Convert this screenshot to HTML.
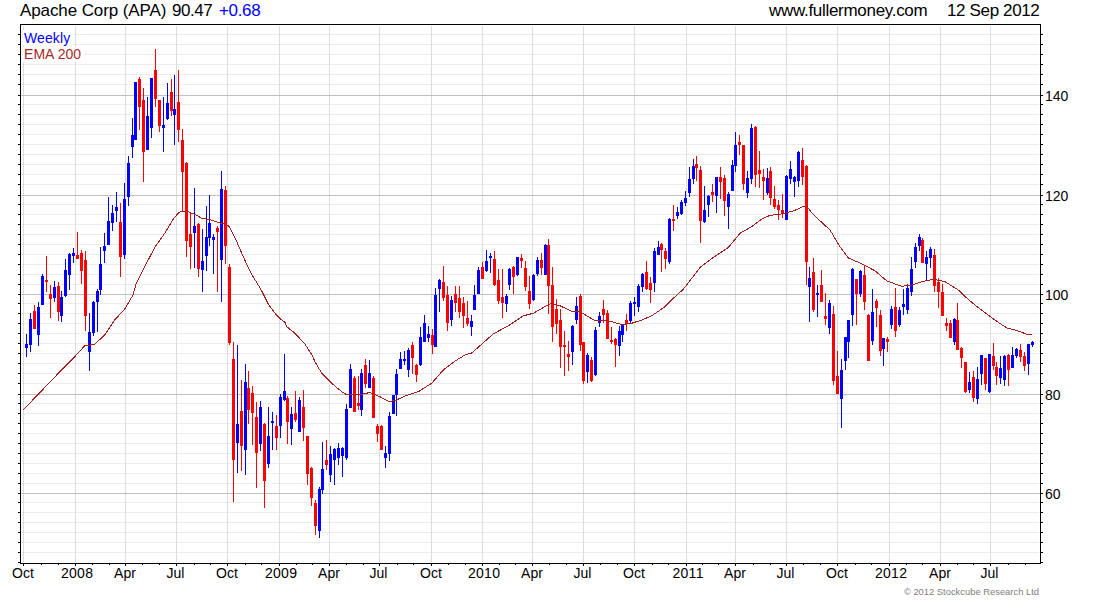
<!DOCTYPE html>
<html><head><meta charset="utf-8"><title>Apache Corp (APA)</title>
<style>
html,body{margin:0;padding:0;background:#fff;}
body{width:1100px;height:600px;position:relative;overflow:hidden;font-family:"Liberation Sans",sans-serif;color:#000;}
.t{position:absolute;white-space:nowrap;line-height:1;}
.title{top:2px;font-size:17px;letter-spacing:-0.1px;}
.wk{left:24px;top:31px;font-size:14px;color:#0000ff;letter-spacing:0.1px;}
.ema{left:24px;top:47px;font-size:14px;color:#a52a2a;letter-spacing:0.05px;}
.xl{position:absolute;top:565px;width:61px;text-align:center;font-size:14px;line-height:16px;white-space:nowrap;}
.yl{position:absolute;left:1045px;font-size:14px;line-height:16px;white-space:nowrap;}
.foot{right:61px;top:587px;font-size:9.4px;color:#808080;}
</style></head><body>
<svg width="1100" height="600" viewBox="0 0 1100 600" style="position:absolute;left:0;top:0">
<rect x="0" y="0" width="1100" height="600" fill="#fff"/>
<g shape-rendering="crispEdges">
<rect x="22" y="34" width="1017" height="1" fill="#ececec"/>
<rect x="22" y="44" width="1017" height="1" fill="#ececec"/>
<rect x="22" y="54" width="1017" height="1" fill="#ececec"/>
<rect x="22" y="64" width="1017" height="1" fill="#ececec"/>
<rect x="22" y="74" width="1017" height="1" fill="#ececec"/>
<rect x="22" y="84" width="1017" height="1" fill="#ececec"/>
<rect x="22" y="104" width="1017" height="1" fill="#ececec"/>
<rect x="22" y="114" width="1017" height="1" fill="#ececec"/>
<rect x="22" y="124" width="1017" height="1" fill="#ececec"/>
<rect x="22" y="134" width="1017" height="1" fill="#ececec"/>
<rect x="22" y="144" width="1017" height="1" fill="#ececec"/>
<rect x="22" y="154" width="1017" height="1" fill="#ececec"/>
<rect x="22" y="164" width="1017" height="1" fill="#ececec"/>
<rect x="22" y="174" width="1017" height="1" fill="#ececec"/>
<rect x="22" y="184" width="1017" height="1" fill="#ececec"/>
<rect x="22" y="204" width="1017" height="1" fill="#ececec"/>
<rect x="22" y="214" width="1017" height="1" fill="#ececec"/>
<rect x="22" y="224" width="1017" height="1" fill="#ececec"/>
<rect x="22" y="234" width="1017" height="1" fill="#ececec"/>
<rect x="22" y="244" width="1017" height="1" fill="#ececec"/>
<rect x="22" y="254" width="1017" height="1" fill="#ececec"/>
<rect x="22" y="264" width="1017" height="1" fill="#ececec"/>
<rect x="22" y="274" width="1017" height="1" fill="#ececec"/>
<rect x="22" y="284" width="1017" height="1" fill="#ececec"/>
<rect x="22" y="303" width="1017" height="1" fill="#ececec"/>
<rect x="22" y="313" width="1017" height="1" fill="#ececec"/>
<rect x="22" y="323" width="1017" height="1" fill="#ececec"/>
<rect x="22" y="333" width="1017" height="1" fill="#ececec"/>
<rect x="22" y="343" width="1017" height="1" fill="#ececec"/>
<rect x="22" y="353" width="1017" height="1" fill="#ececec"/>
<rect x="22" y="363" width="1017" height="1" fill="#ececec"/>
<rect x="22" y="373" width="1017" height="1" fill="#ececec"/>
<rect x="22" y="383" width="1017" height="1" fill="#ececec"/>
<rect x="22" y="403" width="1017" height="1" fill="#ececec"/>
<rect x="22" y="413" width="1017" height="1" fill="#ececec"/>
<rect x="22" y="423" width="1017" height="1" fill="#ececec"/>
<rect x="22" y="433" width="1017" height="1" fill="#ececec"/>
<rect x="22" y="443" width="1017" height="1" fill="#ececec"/>
<rect x="22" y="453" width="1017" height="1" fill="#ececec"/>
<rect x="22" y="463" width="1017" height="1" fill="#ececec"/>
<rect x="22" y="473" width="1017" height="1" fill="#ececec"/>
<rect x="22" y="483" width="1017" height="1" fill="#ececec"/>
<rect x="22" y="502" width="1017" height="1" fill="#ececec"/>
<rect x="22" y="512" width="1017" height="1" fill="#ececec"/>
<rect x="22" y="522" width="1017" height="1" fill="#ececec"/>
<rect x="22" y="532" width="1017" height="1" fill="#ececec"/>
<rect x="22" y="542" width="1017" height="1" fill="#ececec"/>
<rect x="22" y="552" width="1017" height="1" fill="#ececec"/>
<rect x="23" y="26" width="1" height="536" fill="#dcdcdc"/>
<rect x="75" y="26" width="1" height="536" fill="#dcdcdc"/>
<rect x="125" y="26" width="1" height="536" fill="#dcdcdc"/>
<rect x="176" y="26" width="1" height="536" fill="#dcdcdc"/>
<rect x="227" y="26" width="1" height="536" fill="#dcdcdc"/>
<rect x="279" y="26" width="1" height="536" fill="#dcdcdc"/>
<rect x="329" y="26" width="1" height="536" fill="#dcdcdc"/>
<rect x="379" y="26" width="1" height="536" fill="#dcdcdc"/>
<rect x="431" y="26" width="1" height="536" fill="#dcdcdc"/>
<rect x="482" y="26" width="1" height="536" fill="#dcdcdc"/>
<rect x="532" y="26" width="1" height="536" fill="#dcdcdc"/>
<rect x="583" y="26" width="1" height="536" fill="#dcdcdc"/>
<rect x="634" y="26" width="1" height="536" fill="#dcdcdc"/>
<rect x="686" y="26" width="1" height="536" fill="#dcdcdc"/>
<rect x="735" y="26" width="1" height="536" fill="#dcdcdc"/>
<rect x="786" y="26" width="1" height="536" fill="#dcdcdc"/>
<rect x="837" y="26" width="1" height="536" fill="#dcdcdc"/>
<rect x="889" y="26" width="1" height="536" fill="#dcdcdc"/>
<rect x="940" y="26" width="1" height="536" fill="#dcdcdc"/>
<rect x="990" y="26" width="1" height="536" fill="#dcdcdc"/>
<rect x="21" y="95" width="1019" height="1" fill="#c0c0c0"/>
<rect x="21" y="195" width="1019" height="1" fill="#c0c0c0"/>
<rect x="21" y="294" width="1019" height="1" fill="#c0c0c0"/>
<rect x="21" y="394" width="1019" height="1" fill="#c0c0c0"/>
<rect x="21" y="493" width="1019" height="1" fill="#c0c0c0"/>
<rect x="21" y="30" width="52" height="15" fill="#fff"/>
<rect x="21" y="47" width="63" height="15" fill="#fff"/>
</g>
<g shape-rendering="crispEdges">
<rect x="26" y="334" width="1" height="23" fill="#0000ff"/>
<rect x="25" y="344" width="3" height="4" fill="#0000ff"/>
<rect x="30" y="313" width="1" height="39" fill="#0000ff"/>
<rect x="29" y="319" width="3" height="26" fill="#0000ff"/>
<rect x="34" y="305" width="1" height="24" fill="#ff0000"/>
<rect x="33" y="311" width="3" height="18" fill="#ff0000"/>
<rect x="38" y="302" width="1" height="44" fill="#0000ff"/>
<rect x="37" y="307" width="3" height="28" fill="#0000ff"/>
<rect x="42" y="274" width="1" height="31" fill="#0000ff"/>
<rect x="41" y="276" width="3" height="29" fill="#0000ff"/>
<rect x="46" y="256" width="1" height="36" fill="#ff0000"/>
<rect x="45" y="280" width="3" height="2" fill="#ff0000"/>
<rect x="50" y="285" width="1" height="33" fill="#ff0000"/>
<rect x="49" y="294" width="3" height="5" fill="#ff0000"/>
<rect x="54" y="281" width="1" height="21" fill="#0000ff"/>
<rect x="53" y="287" width="3" height="11" fill="#0000ff"/>
<rect x="58" y="282" width="1" height="39" fill="#ff0000"/>
<rect x="57" y="286" width="3" height="26" fill="#ff0000"/>
<rect x="61" y="291" width="1" height="31" fill="#0000ff"/>
<rect x="60" y="297" width="3" height="19" fill="#0000ff"/>
<rect x="65" y="259" width="1" height="38" fill="#0000ff"/>
<rect x="64" y="270" width="3" height="26" fill="#0000ff"/>
<rect x="69" y="253" width="1" height="37" fill="#0000ff"/>
<rect x="68" y="254" width="3" height="21" fill="#0000ff"/>
<rect x="73" y="248" width="1" height="15" fill="#0000ff"/>
<rect x="72" y="253" width="3" height="3" fill="#0000ff"/>
<rect x="77" y="232" width="1" height="27" fill="#ff0000"/>
<rect x="76" y="255" width="3" height="4" fill="#ff0000"/>
<rect x="81" y="250" width="1" height="34" fill="#ff0000"/>
<rect x="80" y="253" width="3" height="18" fill="#ff0000"/>
<rect x="85" y="251" width="1" height="80" fill="#ff0000"/>
<rect x="84" y="260" width="3" height="56" fill="#ff0000"/>
<rect x="89" y="313" width="1" height="58" fill="#0000ff"/>
<rect x="88" y="332" width="3" height="20" fill="#0000ff"/>
<rect x="93" y="301" width="1" height="35" fill="#0000ff"/>
<rect x="92" y="302" width="3" height="31" fill="#0000ff"/>
<rect x="97" y="289" width="1" height="43" fill="#0000ff"/>
<rect x="96" y="291" width="3" height="11" fill="#0000ff"/>
<rect x="100" y="247" width="1" height="48" fill="#0000ff"/>
<rect x="99" y="264" width="3" height="26" fill="#0000ff"/>
<rect x="104" y="233" width="1" height="30" fill="#0000ff"/>
<rect x="103" y="246" width="3" height="5" fill="#0000ff"/>
<rect x="108" y="197" width="1" height="48" fill="#0000ff"/>
<rect x="107" y="221" width="3" height="24" fill="#0000ff"/>
<rect x="112" y="205" width="1" height="26" fill="#0000ff"/>
<rect x="111" y="213" width="3" height="10" fill="#0000ff"/>
<rect x="116" y="192" width="1" height="30" fill="#0000ff"/>
<rect x="115" y="207" width="3" height="4" fill="#0000ff"/>
<rect x="120" y="203" width="1" height="74" fill="#ff0000"/>
<rect x="119" y="222" width="3" height="35" fill="#ff0000"/>
<rect x="124" y="183" width="1" height="76" fill="#0000ff"/>
<rect x="123" y="199" width="3" height="56" fill="#0000ff"/>
<rect x="128" y="156" width="1" height="50" fill="#0000ff"/>
<rect x="127" y="163" width="3" height="34" fill="#0000ff"/>
<rect x="132" y="118" width="1" height="40" fill="#0000ff"/>
<rect x="131" y="135" width="3" height="12" fill="#0000ff"/>
<rect x="135" y="82" width="1" height="58" fill="#0000ff"/>
<rect x="134" y="82" width="3" height="58" fill="#0000ff"/>
<rect x="139" y="77" width="1" height="53" fill="#ff0000"/>
<rect x="138" y="79" width="3" height="28" fill="#ff0000"/>
<rect x="143" y="88" width="1" height="94" fill="#ff0000"/>
<rect x="142" y="100" width="3" height="52" fill="#ff0000"/>
<rect x="147" y="97" width="1" height="53" fill="#0000ff"/>
<rect x="146" y="116" width="3" height="34" fill="#0000ff"/>
<rect x="151" y="78" width="1" height="60" fill="#0000ff"/>
<rect x="150" y="78" width="3" height="50" fill="#0000ff"/>
<rect x="155" y="49" width="1" height="58" fill="#ff0000"/>
<rect x="154" y="70" width="3" height="29" fill="#ff0000"/>
<rect x="159" y="100" width="1" height="32" fill="#ff0000"/>
<rect x="158" y="100" width="3" height="26" fill="#ff0000"/>
<rect x="163" y="97" width="1" height="55" fill="#0000ff"/>
<rect x="162" y="125" width="3" height="3" fill="#0000ff"/>
<rect x="167" y="83" width="1" height="37" fill="#0000ff"/>
<rect x="166" y="103" width="3" height="16" fill="#0000ff"/>
<rect x="171" y="79" width="1" height="37" fill="#ff0000"/>
<rect x="170" y="92" width="3" height="19" fill="#ff0000"/>
<rect x="174" y="75" width="1" height="70" fill="#0000ff"/>
<rect x="173" y="109" width="3" height="6" fill="#0000ff"/>
<rect x="178" y="70" width="1" height="72" fill="#ff0000"/>
<rect x="177" y="102" width="3" height="28" fill="#ff0000"/>
<rect x="182" y="129" width="1" height="82" fill="#ff0000"/>
<rect x="181" y="140" width="3" height="32" fill="#ff0000"/>
<rect x="186" y="162" width="1" height="95" fill="#ff0000"/>
<rect x="185" y="163" width="3" height="78" fill="#ff0000"/>
<rect x="190" y="213" width="1" height="56" fill="#ff0000"/>
<rect x="189" y="234" width="3" height="13" fill="#ff0000"/>
<rect x="194" y="188" width="1" height="80" fill="#0000ff"/>
<rect x="193" y="226" width="3" height="7" fill="#0000ff"/>
<rect x="198" y="223" width="1" height="54" fill="#ff0000"/>
<rect x="197" y="224" width="3" height="45" fill="#ff0000"/>
<rect x="202" y="229" width="1" height="63" fill="#0000ff"/>
<rect x="201" y="261" width="3" height="9" fill="#0000ff"/>
<rect x="206" y="206" width="1" height="65" fill="#0000ff"/>
<rect x="205" y="237" width="3" height="19" fill="#0000ff"/>
<rect x="209" y="195" width="1" height="51" fill="#0000ff"/>
<rect x="208" y="223" width="3" height="15" fill="#0000ff"/>
<rect x="213" y="234" width="1" height="40" fill="#0000ff"/>
<rect x="212" y="237" width="3" height="3" fill="#0000ff"/>
<rect x="217" y="226" width="1" height="66" fill="#ff0000"/>
<rect x="216" y="228" width="3" height="4" fill="#ff0000"/>
<rect x="221" y="171" width="1" height="131" fill="#0000ff"/>
<rect x="220" y="189" width="3" height="71" fill="#0000ff"/>
<rect x="225" y="186" width="1" height="78" fill="#ff0000"/>
<rect x="224" y="190" width="3" height="56" fill="#ff0000"/>
<rect x="229" y="264" width="1" height="81" fill="#ff0000"/>
<rect x="228" y="267" width="3" height="76" fill="#ff0000"/>
<rect x="233" y="342" width="1" height="160" fill="#ff0000"/>
<rect x="232" y="359" width="3" height="101" fill="#ff0000"/>
<rect x="237" y="345" width="1" height="128" fill="#0000ff"/>
<rect x="236" y="424" width="3" height="19" fill="#0000ff"/>
<rect x="241" y="380" width="1" height="91" fill="#ff0000"/>
<rect x="240" y="411" width="3" height="35" fill="#ff0000"/>
<rect x="245" y="364" width="1" height="111" fill="#0000ff"/>
<rect x="244" y="382" width="3" height="68" fill="#0000ff"/>
<rect x="248" y="371" width="1" height="53" fill="#ff0000"/>
<rect x="247" y="388" width="3" height="22" fill="#ff0000"/>
<rect x="252" y="386" width="1" height="59" fill="#ff0000"/>
<rect x="251" y="393" width="3" height="20" fill="#ff0000"/>
<rect x="256" y="402" width="1" height="86" fill="#ff0000"/>
<rect x="255" y="417" width="3" height="36" fill="#ff0000"/>
<rect x="260" y="401" width="1" height="50" fill="#0000ff"/>
<rect x="259" y="407" width="3" height="37" fill="#0000ff"/>
<rect x="264" y="423" width="1" height="85" fill="#ff0000"/>
<rect x="263" y="424" width="3" height="57" fill="#ff0000"/>
<rect x="268" y="407" width="1" height="61" fill="#0000ff"/>
<rect x="267" y="436" width="3" height="28" fill="#0000ff"/>
<rect x="272" y="412" width="1" height="38" fill="#0000ff"/>
<rect x="271" y="421" width="3" height="2" fill="#0000ff"/>
<rect x="276" y="415" width="1" height="35" fill="#ff0000"/>
<rect x="275" y="426" width="3" height="12" fill="#ff0000"/>
<rect x="280" y="394" width="1" height="44" fill="#0000ff"/>
<rect x="279" y="397" width="3" height="29" fill="#0000ff"/>
<rect x="284" y="354" width="1" height="47" fill="#0000ff"/>
<rect x="283" y="391" width="3" height="9" fill="#0000ff"/>
<rect x="287" y="396" width="1" height="48" fill="#ff0000"/>
<rect x="286" y="398" width="3" height="24" fill="#ff0000"/>
<rect x="291" y="407" width="1" height="38" fill="#0000ff"/>
<rect x="290" y="414" width="3" height="15" fill="#0000ff"/>
<rect x="295" y="391" width="1" height="31" fill="#ff0000"/>
<rect x="294" y="413" width="3" height="7" fill="#ff0000"/>
<rect x="299" y="397" width="1" height="35" fill="#0000ff"/>
<rect x="298" y="400" width="3" height="32" fill="#0000ff"/>
<rect x="303" y="390" width="1" height="51" fill="#ff0000"/>
<rect x="302" y="407" width="3" height="21" fill="#ff0000"/>
<rect x="307" y="436" width="1" height="49" fill="#ff0000"/>
<rect x="306" y="436" width="3" height="38" fill="#ff0000"/>
<rect x="311" y="467" width="1" height="39" fill="#ff0000"/>
<rect x="310" y="468" width="3" height="30" fill="#ff0000"/>
<rect x="315" y="500" width="1" height="35" fill="#ff0000"/>
<rect x="314" y="503" width="3" height="23" fill="#ff0000"/>
<rect x="319" y="487" width="1" height="51" fill="#0000ff"/>
<rect x="318" y="489" width="3" height="42" fill="#0000ff"/>
<rect x="322" y="442" width="1" height="52" fill="#0000ff"/>
<rect x="321" y="469" width="3" height="21" fill="#0000ff"/>
<rect x="326" y="440" width="1" height="30" fill="#ff0000"/>
<rect x="325" y="460" width="3" height="5" fill="#ff0000"/>
<rect x="330" y="446" width="1" height="36" fill="#0000ff"/>
<rect x="329" y="454" width="3" height="21" fill="#0000ff"/>
<rect x="334" y="448" width="1" height="37" fill="#0000ff"/>
<rect x="333" y="449" width="3" height="11" fill="#0000ff"/>
<rect x="338" y="443" width="1" height="22" fill="#0000ff"/>
<rect x="337" y="448" width="3" height="10" fill="#0000ff"/>
<rect x="342" y="447" width="1" height="30" fill="#0000ff"/>
<rect x="341" y="448" width="3" height="8" fill="#0000ff"/>
<rect x="346" y="404" width="1" height="56" fill="#0000ff"/>
<rect x="345" y="409" width="3" height="49" fill="#0000ff"/>
<rect x="350" y="364" width="1" height="44" fill="#0000ff"/>
<rect x="349" y="369" width="3" height="39" fill="#0000ff"/>
<rect x="354" y="376" width="1" height="36" fill="#ff0000"/>
<rect x="353" y="378" width="3" height="34" fill="#ff0000"/>
<rect x="358" y="376" width="1" height="34" fill="#ff0000"/>
<rect x="357" y="403" width="3" height="3" fill="#ff0000"/>
<rect x="361" y="369" width="1" height="47" fill="#0000ff"/>
<rect x="360" y="373" width="3" height="37" fill="#0000ff"/>
<rect x="365" y="359" width="1" height="29" fill="#ff0000"/>
<rect x="364" y="365" width="3" height="19" fill="#ff0000"/>
<rect x="369" y="360" width="1" height="28" fill="#0000ff"/>
<rect x="368" y="373" width="3" height="15" fill="#0000ff"/>
<rect x="373" y="376" width="1" height="42" fill="#ff0000"/>
<rect x="372" y="378" width="3" height="40" fill="#ff0000"/>
<rect x="377" y="424" width="1" height="18" fill="#ff0000"/>
<rect x="376" y="426" width="3" height="8" fill="#ff0000"/>
<rect x="381" y="425" width="1" height="25" fill="#ff0000"/>
<rect x="380" y="426" width="3" height="24" fill="#ff0000"/>
<rect x="385" y="446" width="1" height="22" fill="#0000ff"/>
<rect x="384" y="453" width="3" height="5" fill="#0000ff"/>
<rect x="389" y="412" width="1" height="49" fill="#0000ff"/>
<rect x="388" y="416" width="3" height="38" fill="#0000ff"/>
<rect x="393" y="395" width="1" height="19" fill="#0000ff"/>
<rect x="392" y="395" width="3" height="19" fill="#0000ff"/>
<rect x="396" y="369" width="1" height="47" fill="#0000ff"/>
<rect x="395" y="374" width="3" height="21" fill="#0000ff"/>
<rect x="400" y="352" width="1" height="17" fill="#0000ff"/>
<rect x="399" y="359" width="3" height="10" fill="#0000ff"/>
<rect x="404" y="351" width="1" height="14" fill="#0000ff"/>
<rect x="403" y="359" width="3" height="2" fill="#0000ff"/>
<rect x="408" y="348" width="1" height="29" fill="#0000ff"/>
<rect x="407" y="350" width="3" height="20" fill="#0000ff"/>
<rect x="412" y="342" width="1" height="32" fill="#ff0000"/>
<rect x="411" y="345" width="3" height="13" fill="#ff0000"/>
<rect x="416" y="364" width="1" height="18" fill="#ff0000"/>
<rect x="415" y="365" width="3" height="10" fill="#ff0000"/>
<rect x="420" y="327" width="1" height="39" fill="#0000ff"/>
<rect x="419" y="337" width="3" height="28" fill="#0000ff"/>
<rect x="424" y="315" width="1" height="27" fill="#0000ff"/>
<rect x="423" y="323" width="3" height="19" fill="#0000ff"/>
<rect x="428" y="326" width="1" height="16" fill="#0000ff"/>
<rect x="427" y="334" width="3" height="4" fill="#0000ff"/>
<rect x="432" y="329" width="1" height="25" fill="#ff0000"/>
<rect x="431" y="335" width="3" height="10" fill="#ff0000"/>
<rect x="435" y="288" width="1" height="59" fill="#0000ff"/>
<rect x="434" y="295" width="3" height="52" fill="#0000ff"/>
<rect x="439" y="279" width="1" height="33" fill="#0000ff"/>
<rect x="438" y="280" width="3" height="9" fill="#0000ff"/>
<rect x="443" y="266" width="1" height="35" fill="#ff0000"/>
<rect x="442" y="282" width="3" height="16" fill="#ff0000"/>
<rect x="447" y="286" width="1" height="45" fill="#ff0000"/>
<rect x="446" y="295" width="3" height="28" fill="#ff0000"/>
<rect x="451" y="296" width="1" height="30" fill="#0000ff"/>
<rect x="450" y="300" width="3" height="20" fill="#0000ff"/>
<rect x="455" y="286" width="1" height="26" fill="#ff0000"/>
<rect x="454" y="294" width="3" height="9" fill="#ff0000"/>
<rect x="459" y="286" width="1" height="32" fill="#ff0000"/>
<rect x="458" y="298" width="3" height="14" fill="#ff0000"/>
<rect x="463" y="297" width="1" height="31" fill="#ff0000"/>
<rect x="462" y="303" width="3" height="13" fill="#ff0000"/>
<rect x="467" y="301" width="1" height="25" fill="#ff0000"/>
<rect x="466" y="318" width="3" height="6" fill="#ff0000"/>
<rect x="471" y="315" width="1" height="21" fill="#0000ff"/>
<rect x="470" y="321" width="3" height="6" fill="#0000ff"/>
<rect x="474" y="285" width="1" height="25" fill="#0000ff"/>
<rect x="473" y="295" width="3" height="15" fill="#0000ff"/>
<rect x="478" y="267" width="1" height="27" fill="#0000ff"/>
<rect x="477" y="270" width="3" height="24" fill="#0000ff"/>
<rect x="482" y="262" width="1" height="17" fill="#ff0000"/>
<rect x="481" y="267" width="3" height="12" fill="#ff0000"/>
<rect x="486" y="250" width="1" height="22" fill="#0000ff"/>
<rect x="485" y="261" width="3" height="10" fill="#0000ff"/>
<rect x="490" y="253" width="1" height="20" fill="#0000ff"/>
<rect x="489" y="256" width="3" height="2" fill="#0000ff"/>
<rect x="494" y="251" width="1" height="35" fill="#ff0000"/>
<rect x="493" y="259" width="3" height="26" fill="#ff0000"/>
<rect x="498" y="269" width="1" height="35" fill="#ff0000"/>
<rect x="497" y="280" width="3" height="21" fill="#ff0000"/>
<rect x="502" y="269" width="1" height="49" fill="#ff0000"/>
<rect x="501" y="297" width="3" height="6" fill="#ff0000"/>
<rect x="506" y="294" width="1" height="18" fill="#0000ff"/>
<rect x="505" y="296" width="3" height="8" fill="#0000ff"/>
<rect x="509" y="268" width="1" height="22" fill="#0000ff"/>
<rect x="508" y="269" width="3" height="16" fill="#0000ff"/>
<rect x="513" y="266" width="1" height="28" fill="#ff0000"/>
<rect x="512" y="267" width="3" height="10" fill="#ff0000"/>
<rect x="517" y="257" width="1" height="19" fill="#0000ff"/>
<rect x="516" y="257" width="3" height="18" fill="#0000ff"/>
<rect x="521" y="254" width="1" height="14" fill="#ff0000"/>
<rect x="520" y="258" width="3" height="3" fill="#ff0000"/>
<rect x="525" y="261" width="1" height="30" fill="#ff0000"/>
<rect x="524" y="268" width="3" height="19" fill="#ff0000"/>
<rect x="529" y="276" width="1" height="33" fill="#ff0000"/>
<rect x="528" y="291" width="3" height="13" fill="#ff0000"/>
<rect x="533" y="274" width="1" height="27" fill="#0000ff"/>
<rect x="532" y="275" width="3" height="25" fill="#0000ff"/>
<rect x="537" y="257" width="1" height="19" fill="#0000ff"/>
<rect x="536" y="260" width="3" height="14" fill="#0000ff"/>
<rect x="541" y="253" width="1" height="22" fill="#ff0000"/>
<rect x="540" y="260" width="3" height="8" fill="#ff0000"/>
<rect x="545" y="244" width="1" height="31" fill="#0000ff"/>
<rect x="544" y="245" width="3" height="30" fill="#0000ff"/>
<rect x="548" y="239" width="1" height="75" fill="#ff0000"/>
<rect x="547" y="245" width="3" height="41" fill="#ff0000"/>
<rect x="552" y="267" width="1" height="75" fill="#ff0000"/>
<rect x="551" y="285" width="3" height="42" fill="#ff0000"/>
<rect x="556" y="299" width="1" height="35" fill="#ff0000"/>
<rect x="555" y="309" width="3" height="15" fill="#ff0000"/>
<rect x="560" y="309" width="1" height="59" fill="#ff0000"/>
<rect x="559" y="320" width="3" height="27" fill="#ff0000"/>
<rect x="564" y="331" width="1" height="45" fill="#ff0000"/>
<rect x="563" y="345" width="3" height="2" fill="#ff0000"/>
<rect x="568" y="341" width="1" height="30" fill="#ff0000"/>
<rect x="567" y="354" width="3" height="3" fill="#ff0000"/>
<rect x="572" y="325" width="1" height="40" fill="#0000ff"/>
<rect x="571" y="326" width="3" height="26" fill="#0000ff"/>
<rect x="576" y="297" width="1" height="27" fill="#0000ff"/>
<rect x="575" y="306" width="3" height="14" fill="#0000ff"/>
<rect x="580" y="294" width="1" height="57" fill="#ff0000"/>
<rect x="579" y="296" width="3" height="49" fill="#ff0000"/>
<rect x="583" y="342" width="1" height="42" fill="#ff0000"/>
<rect x="582" y="342" width="3" height="39" fill="#ff0000"/>
<rect x="587" y="353" width="1" height="30" fill="#0000ff"/>
<rect x="586" y="355" width="3" height="17" fill="#0000ff"/>
<rect x="591" y="357" width="1" height="25" fill="#ff0000"/>
<rect x="590" y="360" width="3" height="21" fill="#ff0000"/>
<rect x="595" y="327" width="1" height="49" fill="#0000ff"/>
<rect x="594" y="330" width="3" height="45" fill="#0000ff"/>
<rect x="599" y="312" width="1" height="15" fill="#0000ff"/>
<rect x="598" y="316" width="3" height="7" fill="#0000ff"/>
<rect x="603" y="300" width="1" height="23" fill="#ff0000"/>
<rect x="602" y="309" width="3" height="6" fill="#ff0000"/>
<rect x="607" y="310" width="1" height="29" fill="#ff0000"/>
<rect x="606" y="313" width="3" height="26" fill="#ff0000"/>
<rect x="611" y="327" width="1" height="17" fill="#ff0000"/>
<rect x="610" y="340" width="3" height="2" fill="#ff0000"/>
<rect x="615" y="338" width="1" height="29" fill="#ff0000"/>
<rect x="614" y="339" width="3" height="6" fill="#ff0000"/>
<rect x="619" y="326" width="1" height="30" fill="#0000ff"/>
<rect x="618" y="331" width="3" height="15" fill="#0000ff"/>
<rect x="622" y="324" width="1" height="18" fill="#0000ff"/>
<rect x="621" y="324" width="3" height="11" fill="#0000ff"/>
<rect x="626" y="314" width="1" height="17" fill="#ff0000"/>
<rect x="625" y="320" width="3" height="4" fill="#ff0000"/>
<rect x="630" y="301" width="1" height="22" fill="#0000ff"/>
<rect x="629" y="303" width="3" height="18" fill="#0000ff"/>
<rect x="634" y="297" width="1" height="19" fill="#0000ff"/>
<rect x="633" y="302" width="3" height="2" fill="#0000ff"/>
<rect x="638" y="284" width="1" height="28" fill="#0000ff"/>
<rect x="637" y="286" width="3" height="21" fill="#0000ff"/>
<rect x="642" y="273" width="1" height="19" fill="#0000ff"/>
<rect x="641" y="274" width="3" height="13" fill="#0000ff"/>
<rect x="646" y="261" width="1" height="29" fill="#ff0000"/>
<rect x="645" y="272" width="3" height="17" fill="#ff0000"/>
<rect x="650" y="277" width="1" height="26" fill="#ff0000"/>
<rect x="649" y="283" width="3" height="7" fill="#ff0000"/>
<rect x="654" y="248" width="1" height="44" fill="#0000ff"/>
<rect x="653" y="251" width="3" height="32" fill="#0000ff"/>
<rect x="658" y="241" width="1" height="14" fill="#0000ff"/>
<rect x="657" y="247" width="3" height="8" fill="#0000ff"/>
<rect x="661" y="243" width="1" height="29" fill="#ff0000"/>
<rect x="660" y="244" width="3" height="6" fill="#ff0000"/>
<rect x="665" y="248" width="1" height="21" fill="#ff0000"/>
<rect x="664" y="251" width="3" height="8" fill="#ff0000"/>
<rect x="669" y="218" width="1" height="46" fill="#0000ff"/>
<rect x="668" y="219" width="3" height="43" fill="#0000ff"/>
<rect x="673" y="205" width="1" height="26" fill="#ff0000"/>
<rect x="672" y="219" width="3" height="2" fill="#ff0000"/>
<rect x="677" y="207" width="1" height="12" fill="#0000ff"/>
<rect x="676" y="212" width="3" height="4" fill="#0000ff"/>
<rect x="681" y="200" width="1" height="15" fill="#0000ff"/>
<rect x="680" y="202" width="3" height="12" fill="#0000ff"/>
<rect x="685" y="191" width="1" height="15" fill="#0000ff"/>
<rect x="684" y="198" width="3" height="5" fill="#0000ff"/>
<rect x="689" y="167" width="1" height="30" fill="#0000ff"/>
<rect x="688" y="179" width="3" height="14" fill="#0000ff"/>
<rect x="693" y="159" width="1" height="25" fill="#0000ff"/>
<rect x="692" y="166" width="3" height="13" fill="#0000ff"/>
<rect x="696" y="156" width="1" height="25" fill="#ff0000"/>
<rect x="695" y="164" width="3" height="4" fill="#ff0000"/>
<rect x="700" y="166" width="1" height="77" fill="#ff0000"/>
<rect x="699" y="170" width="3" height="51" fill="#ff0000"/>
<rect x="704" y="186" width="1" height="37" fill="#0000ff"/>
<rect x="703" y="210" width="3" height="12" fill="#0000ff"/>
<rect x="708" y="195" width="1" height="22" fill="#0000ff"/>
<rect x="707" y="196" width="3" height="9" fill="#0000ff"/>
<rect x="712" y="184" width="1" height="18" fill="#ff0000"/>
<rect x="711" y="192" width="3" height="3" fill="#ff0000"/>
<rect x="716" y="177" width="1" height="36" fill="#0000ff"/>
<rect x="715" y="177" width="3" height="19" fill="#0000ff"/>
<rect x="720" y="167" width="1" height="32" fill="#ff0000"/>
<rect x="719" y="177" width="3" height="5" fill="#ff0000"/>
<rect x="724" y="175" width="1" height="41" fill="#ff0000"/>
<rect x="723" y="178" width="3" height="23" fill="#ff0000"/>
<rect x="728" y="192" width="1" height="37" fill="#0000ff"/>
<rect x="727" y="194" width="3" height="13" fill="#0000ff"/>
<rect x="732" y="160" width="1" height="31" fill="#0000ff"/>
<rect x="731" y="165" width="3" height="26" fill="#0000ff"/>
<rect x="735" y="132" width="1" height="40" fill="#0000ff"/>
<rect x="734" y="145" width="3" height="21" fill="#0000ff"/>
<rect x="739" y="135" width="1" height="20" fill="#ff0000"/>
<rect x="738" y="142" width="3" height="3" fill="#ff0000"/>
<rect x="743" y="145" width="1" height="45" fill="#ff0000"/>
<rect x="742" y="145" width="3" height="39" fill="#ff0000"/>
<rect x="747" y="171" width="1" height="27" fill="#0000ff"/>
<rect x="746" y="178" width="3" height="15" fill="#0000ff"/>
<rect x="751" y="124" width="1" height="60" fill="#0000ff"/>
<rect x="750" y="128" width="3" height="51" fill="#0000ff"/>
<rect x="755" y="126" width="1" height="61" fill="#ff0000"/>
<rect x="754" y="127" width="3" height="48" fill="#ff0000"/>
<rect x="759" y="151" width="1" height="37" fill="#ff0000"/>
<rect x="758" y="170" width="3" height="4" fill="#ff0000"/>
<rect x="763" y="169" width="1" height="31" fill="#ff0000"/>
<rect x="762" y="177" width="3" height="4" fill="#ff0000"/>
<rect x="767" y="168" width="1" height="27" fill="#0000ff"/>
<rect x="766" y="178" width="3" height="15" fill="#0000ff"/>
<rect x="770" y="167" width="1" height="38" fill="#ff0000"/>
<rect x="769" y="171" width="3" height="27" fill="#ff0000"/>
<rect x="774" y="186" width="1" height="23" fill="#ff0000"/>
<rect x="773" y="199" width="3" height="8" fill="#ff0000"/>
<rect x="778" y="200" width="1" height="20" fill="#ff0000"/>
<rect x="777" y="205" width="3" height="5" fill="#ff0000"/>
<rect x="782" y="194" width="1" height="24" fill="#ff0000"/>
<rect x="781" y="210" width="3" height="4" fill="#ff0000"/>
<rect x="786" y="175" width="1" height="45" fill="#0000ff"/>
<rect x="785" y="176" width="3" height="44" fill="#0000ff"/>
<rect x="790" y="161" width="1" height="23" fill="#0000ff"/>
<rect x="789" y="169" width="3" height="10" fill="#0000ff"/>
<rect x="794" y="176" width="1" height="21" fill="#0000ff"/>
<rect x="793" y="177" width="3" height="5" fill="#0000ff"/>
<rect x="798" y="151" width="1" height="36" fill="#0000ff"/>
<rect x="797" y="152" width="3" height="29" fill="#0000ff"/>
<rect x="802" y="148" width="1" height="37" fill="#ff0000"/>
<rect x="801" y="160" width="3" height="17" fill="#ff0000"/>
<rect x="806" y="165" width="1" height="120" fill="#ff0000"/>
<rect x="805" y="166" width="3" height="96" fill="#ff0000"/>
<rect x="809" y="267" width="1" height="55" fill="#0000ff"/>
<rect x="808" y="278" width="3" height="9" fill="#0000ff"/>
<rect x="813" y="258" width="1" height="54" fill="#ff0000"/>
<rect x="812" y="272" width="3" height="38" fill="#ff0000"/>
<rect x="817" y="285" width="1" height="32" fill="#0000ff"/>
<rect x="816" y="293" width="3" height="2" fill="#0000ff"/>
<rect x="821" y="270" width="1" height="32" fill="#ff0000"/>
<rect x="820" y="285" width="3" height="17" fill="#ff0000"/>
<rect x="825" y="293" width="1" height="32" fill="#ff0000"/>
<rect x="824" y="316" width="3" height="3" fill="#ff0000"/>
<rect x="829" y="300" width="1" height="34" fill="#0000ff"/>
<rect x="828" y="303" width="3" height="25" fill="#0000ff"/>
<rect x="833" y="306" width="1" height="79" fill="#ff0000"/>
<rect x="832" y="314" width="3" height="67" fill="#ff0000"/>
<rect x="837" y="351" width="1" height="43" fill="#ff0000"/>
<rect x="836" y="376" width="3" height="18" fill="#ff0000"/>
<rect x="841" y="359" width="1" height="69" fill="#0000ff"/>
<rect x="840" y="370" width="3" height="29" fill="#0000ff"/>
<rect x="845" y="337" width="1" height="33" fill="#0000ff"/>
<rect x="844" y="337" width="3" height="24" fill="#0000ff"/>
<rect x="848" y="320" width="1" height="38" fill="#0000ff"/>
<rect x="847" y="320" width="3" height="22" fill="#0000ff"/>
<rect x="852" y="268" width="1" height="58" fill="#0000ff"/>
<rect x="851" y="269" width="3" height="46" fill="#0000ff"/>
<rect x="856" y="279" width="1" height="46" fill="#ff0000"/>
<rect x="855" y="279" width="3" height="15" fill="#ff0000"/>
<rect x="860" y="270" width="1" height="27" fill="#0000ff"/>
<rect x="859" y="271" width="3" height="23" fill="#0000ff"/>
<rect x="864" y="266" width="1" height="44" fill="#ff0000"/>
<rect x="863" y="275" width="3" height="27" fill="#ff0000"/>
<rect x="868" y="314" width="1" height="47" fill="#ff0000"/>
<rect x="867" y="315" width="3" height="46" fill="#ff0000"/>
<rect x="872" y="289" width="1" height="56" fill="#0000ff"/>
<rect x="871" y="312" width="3" height="29" fill="#0000ff"/>
<rect x="876" y="299" width="1" height="28" fill="#ff0000"/>
<rect x="875" y="301" width="3" height="7" fill="#ff0000"/>
<rect x="880" y="310" width="1" height="46" fill="#ff0000"/>
<rect x="879" y="315" width="3" height="36" fill="#ff0000"/>
<rect x="883" y="338" width="1" height="28" fill="#0000ff"/>
<rect x="882" y="338" width="3" height="11" fill="#0000ff"/>
<rect x="887" y="337" width="1" height="15" fill="#ff0000"/>
<rect x="886" y="339" width="3" height="3" fill="#ff0000"/>
<rect x="891" y="306" width="1" height="23" fill="#0000ff"/>
<rect x="890" y="309" width="3" height="16" fill="#0000ff"/>
<rect x="895" y="288" width="1" height="49" fill="#ff0000"/>
<rect x="894" y="307" width="3" height="24" fill="#ff0000"/>
<rect x="899" y="307" width="1" height="20" fill="#0000ff"/>
<rect x="898" y="310" width="3" height="15" fill="#0000ff"/>
<rect x="903" y="289" width="1" height="26" fill="#0000ff"/>
<rect x="902" y="304" width="3" height="3" fill="#0000ff"/>
<rect x="907" y="284" width="1" height="30" fill="#0000ff"/>
<rect x="906" y="288" width="3" height="22" fill="#0000ff"/>
<rect x="911" y="257" width="1" height="39" fill="#0000ff"/>
<rect x="910" y="269" width="3" height="23" fill="#0000ff"/>
<rect x="915" y="243" width="1" height="25" fill="#0000ff"/>
<rect x="914" y="247" width="3" height="15" fill="#0000ff"/>
<rect x="919" y="234" width="1" height="17" fill="#0000ff"/>
<rect x="918" y="237" width="3" height="9" fill="#0000ff"/>
<rect x="922" y="238" width="1" height="25" fill="#ff0000"/>
<rect x="921" y="240" width="3" height="23" fill="#ff0000"/>
<rect x="926" y="251" width="1" height="29" fill="#0000ff"/>
<rect x="925" y="257" width="3" height="7" fill="#0000ff"/>
<rect x="930" y="247" width="1" height="21" fill="#0000ff"/>
<rect x="929" y="249" width="3" height="9" fill="#0000ff"/>
<rect x="934" y="249" width="1" height="43" fill="#ff0000"/>
<rect x="933" y="255" width="3" height="31" fill="#ff0000"/>
<rect x="938" y="278" width="1" height="30" fill="#ff0000"/>
<rect x="937" y="282" width="3" height="10" fill="#ff0000"/>
<rect x="942" y="284" width="1" height="32" fill="#ff0000"/>
<rect x="941" y="292" width="3" height="24" fill="#ff0000"/>
<rect x="946" y="318" width="1" height="13" fill="#ff0000"/>
<rect x="945" y="323" width="3" height="3" fill="#ff0000"/>
<rect x="950" y="320" width="1" height="18" fill="#ff0000"/>
<rect x="949" y="323" width="3" height="15" fill="#ff0000"/>
<rect x="954" y="318" width="1" height="27" fill="#0000ff"/>
<rect x="953" y="319" width="3" height="23" fill="#0000ff"/>
<rect x="957" y="303" width="1" height="47" fill="#ff0000"/>
<rect x="956" y="320" width="3" height="30" fill="#ff0000"/>
<rect x="961" y="347" width="1" height="21" fill="#ff0000"/>
<rect x="960" y="348" width="3" height="10" fill="#ff0000"/>
<rect x="965" y="362" width="1" height="31" fill="#ff0000"/>
<rect x="964" y="362" width="3" height="30" fill="#ff0000"/>
<rect x="969" y="372" width="1" height="21" fill="#0000ff"/>
<rect x="968" y="382" width="3" height="8" fill="#0000ff"/>
<rect x="973" y="371" width="1" height="31" fill="#ff0000"/>
<rect x="972" y="377" width="3" height="21" fill="#ff0000"/>
<rect x="977" y="367" width="1" height="37" fill="#0000ff"/>
<rect x="976" y="379" width="3" height="20" fill="#0000ff"/>
<rect x="981" y="355" width="1" height="30" fill="#0000ff"/>
<rect x="980" y="355" width="3" height="19" fill="#0000ff"/>
<rect x="985" y="358" width="1" height="32" fill="#ff0000"/>
<rect x="984" y="358" width="3" height="26" fill="#ff0000"/>
<rect x="989" y="354" width="1" height="39" fill="#0000ff"/>
<rect x="988" y="354" width="3" height="38" fill="#0000ff"/>
<rect x="993" y="343" width="1" height="27" fill="#ff0000"/>
<rect x="992" y="356" width="3" height="10" fill="#ff0000"/>
<rect x="996" y="362" width="1" height="23" fill="#ff0000"/>
<rect x="995" y="367" width="3" height="9" fill="#ff0000"/>
<rect x="1000" y="356" width="1" height="28" fill="#0000ff"/>
<rect x="999" y="368" width="3" height="10" fill="#0000ff"/>
<rect x="1004" y="355" width="1" height="31" fill="#0000ff"/>
<rect x="1003" y="356" width="3" height="24" fill="#0000ff"/>
<rect x="1008" y="354" width="1" height="32" fill="#ff0000"/>
<rect x="1007" y="355" width="3" height="15" fill="#ff0000"/>
<rect x="1012" y="347" width="1" height="21" fill="#0000ff"/>
<rect x="1011" y="355" width="3" height="13" fill="#0000ff"/>
<rect x="1016" y="348" width="1" height="10" fill="#0000ff"/>
<rect x="1015" y="349" width="3" height="7" fill="#0000ff"/>
<rect x="1020" y="344" width="1" height="18" fill="#ff0000"/>
<rect x="1019" y="350" width="3" height="7" fill="#ff0000"/>
<rect x="1024" y="352" width="1" height="19" fill="#ff0000"/>
<rect x="1023" y="356" width="3" height="10" fill="#ff0000"/>
<rect x="1028" y="344" width="1" height="31" fill="#0000ff"/>
<rect x="1027" y="344" width="3" height="20" fill="#0000ff"/>
<rect x="1032" y="341" width="1" height="6" fill="#0000ff"/>
<rect x="1031" y="342" width="3" height="3" fill="#0000ff"/>
</g>
<polyline points="23.0,410.0 39.5,393.0 62.0,369.5 74.7,356.7 84.7,345.8 94.7,344.2 104.7,335.0 114.7,320.0 124.7,309.0 133.0,295.0 136.3,283.3 138.0,280.0 144.7,266.7 154.7,247.5 164.7,233.3 173.8,218.3 178.8,212.5 183.0,211.2 188.0,211.7 195.0,214.5 201.7,218.3 210.0,219.7 220.0,223.0 225.8,223.7 229.2,226.7 236.7,241.7 242.5,255.0 246.7,264.2 251.7,274.2 261.7,290.8 268.3,304.2 275.0,313.3 281.7,320.0 285.0,322.5 286.7,326.7 295.0,333.3 305.0,344.2 311.7,354.5 315.0,361.7 321.7,373.3 331.7,383.3 341.7,391.7 345.8,394.2 361.7,394.2 370.0,392.5 380.0,396.7 388.3,401.3 395.0,400.8 403.3,396.7 418.3,391.7 431.7,383.3 443.3,370.0 456.7,360.0 465.0,355.0 471.7,353.0 481.7,344.2 493.3,333.8 508.3,325.8 523.3,315.8 533.3,313.3 543.3,307.5 551.7,303.3 560.0,305.8 571.7,311.3 580.0,311.7 595.0,320.8 608.3,320.8 621.7,324.5 631.7,323.3 641.7,320.0 651.7,315.8 665.0,306.7 673.3,298.3 682.5,290.0 686.7,285.0 700.0,267.5 713.3,257.5 728.3,247.5 740.0,233.3 751.7,226.7 761.7,219.2 770.0,215.3 780.0,214.2 786.7,212.8 795.0,210.3 803.3,206.3 807.5,207.5 813.3,214.5 818.3,219.2 830.0,230.0 840.0,246.7 848.3,258.0 861.7,263.7 875.0,270.8 886.7,280.8 901.7,286.3 911.7,285.0 921.7,281.7 933.3,279.2 945.0,281.7 958.3,290.0 968.3,299.5 980.0,309.0 995.0,320.0 1000.0,323.5 1007.0,328.0 1015.0,330.0 1021.0,332.0 1027.0,334.5 1032.0,334.5" fill="none" stroke="#a02020" stroke-width="1" shape-rendering="crispEdges"/>
<g shape-rendering="crispEdges" fill="#000">
<rect x="20" y="24" width="1021" height="1"/>
<rect x="20" y="563" width="1021" height="1"/>
<rect x="20" y="24" width="1" height="540"/>
<rect x="1040" y="24" width="1" height="540"/>
<rect x="18" y="34" width="2" height="1"/>
<rect x="1041" y="34" width="2" height="1"/>
<rect x="18" y="44" width="2" height="1"/>
<rect x="1041" y="44" width="2" height="1"/>
<rect x="18" y="54" width="2" height="1"/>
<rect x="1041" y="54" width="2" height="1"/>
<rect x="18" y="64" width="2" height="1"/>
<rect x="1041" y="64" width="2" height="1"/>
<rect x="18" y="74" width="2" height="1"/>
<rect x="1041" y="74" width="2" height="1"/>
<rect x="18" y="84" width="2" height="1"/>
<rect x="1041" y="84" width="2" height="1"/>
<rect x="18" y="104" width="2" height="1"/>
<rect x="1041" y="104" width="2" height="1"/>
<rect x="18" y="114" width="2" height="1"/>
<rect x="1041" y="114" width="2" height="1"/>
<rect x="18" y="124" width="2" height="1"/>
<rect x="1041" y="124" width="2" height="1"/>
<rect x="18" y="134" width="2" height="1"/>
<rect x="1041" y="134" width="2" height="1"/>
<rect x="18" y="144" width="2" height="1"/>
<rect x="1041" y="144" width="2" height="1"/>
<rect x="18" y="154" width="2" height="1"/>
<rect x="1041" y="154" width="2" height="1"/>
<rect x="18" y="164" width="2" height="1"/>
<rect x="1041" y="164" width="2" height="1"/>
<rect x="18" y="174" width="2" height="1"/>
<rect x="1041" y="174" width="2" height="1"/>
<rect x="18" y="184" width="2" height="1"/>
<rect x="1041" y="184" width="2" height="1"/>
<rect x="18" y="204" width="2" height="1"/>
<rect x="1041" y="204" width="2" height="1"/>
<rect x="18" y="214" width="2" height="1"/>
<rect x="1041" y="214" width="2" height="1"/>
<rect x="18" y="224" width="2" height="1"/>
<rect x="1041" y="224" width="2" height="1"/>
<rect x="18" y="234" width="2" height="1"/>
<rect x="1041" y="234" width="2" height="1"/>
<rect x="18" y="244" width="2" height="1"/>
<rect x="1041" y="244" width="2" height="1"/>
<rect x="18" y="254" width="2" height="1"/>
<rect x="1041" y="254" width="2" height="1"/>
<rect x="18" y="264" width="2" height="1"/>
<rect x="1041" y="264" width="2" height="1"/>
<rect x="18" y="274" width="2" height="1"/>
<rect x="1041" y="274" width="2" height="1"/>
<rect x="18" y="284" width="2" height="1"/>
<rect x="1041" y="284" width="2" height="1"/>
<rect x="18" y="303" width="2" height="1"/>
<rect x="1041" y="303" width="2" height="1"/>
<rect x="18" y="313" width="2" height="1"/>
<rect x="1041" y="313" width="2" height="1"/>
<rect x="18" y="323" width="2" height="1"/>
<rect x="1041" y="323" width="2" height="1"/>
<rect x="18" y="333" width="2" height="1"/>
<rect x="1041" y="333" width="2" height="1"/>
<rect x="18" y="343" width="2" height="1"/>
<rect x="1041" y="343" width="2" height="1"/>
<rect x="18" y="353" width="2" height="1"/>
<rect x="1041" y="353" width="2" height="1"/>
<rect x="18" y="363" width="2" height="1"/>
<rect x="1041" y="363" width="2" height="1"/>
<rect x="18" y="373" width="2" height="1"/>
<rect x="1041" y="373" width="2" height="1"/>
<rect x="18" y="383" width="2" height="1"/>
<rect x="1041" y="383" width="2" height="1"/>
<rect x="18" y="403" width="2" height="1"/>
<rect x="1041" y="403" width="2" height="1"/>
<rect x="18" y="413" width="2" height="1"/>
<rect x="1041" y="413" width="2" height="1"/>
<rect x="18" y="423" width="2" height="1"/>
<rect x="1041" y="423" width="2" height="1"/>
<rect x="18" y="433" width="2" height="1"/>
<rect x="1041" y="433" width="2" height="1"/>
<rect x="18" y="443" width="2" height="1"/>
<rect x="1041" y="443" width="2" height="1"/>
<rect x="18" y="453" width="2" height="1"/>
<rect x="1041" y="453" width="2" height="1"/>
<rect x="18" y="463" width="2" height="1"/>
<rect x="1041" y="463" width="2" height="1"/>
<rect x="18" y="473" width="2" height="1"/>
<rect x="1041" y="473" width="2" height="1"/>
<rect x="18" y="483" width="2" height="1"/>
<rect x="1041" y="483" width="2" height="1"/>
<rect x="18" y="502" width="2" height="1"/>
<rect x="1041" y="502" width="2" height="1"/>
<rect x="18" y="512" width="2" height="1"/>
<rect x="1041" y="512" width="2" height="1"/>
<rect x="18" y="522" width="2" height="1"/>
<rect x="1041" y="522" width="2" height="1"/>
<rect x="18" y="532" width="2" height="1"/>
<rect x="1041" y="532" width="2" height="1"/>
<rect x="18" y="542" width="2" height="1"/>
<rect x="1041" y="542" width="2" height="1"/>
<rect x="18" y="552" width="2" height="1"/>
<rect x="1041" y="552" width="2" height="1"/>
<rect x="18" y="95" width="2" height="1"/>
<rect x="1041" y="95" width="2" height="1"/>
<rect x="18" y="195" width="2" height="1"/>
<rect x="1041" y="195" width="2" height="1"/>
<rect x="18" y="294" width="2" height="1"/>
<rect x="1041" y="294" width="2" height="1"/>
<rect x="18" y="394" width="2" height="1"/>
<rect x="1041" y="394" width="2" height="1"/>
<rect x="18" y="493" width="2" height="1"/>
<rect x="1041" y="493" width="2" height="1"/>
<rect x="18" y="562" width="2" height="1"/>
<rect x="1041" y="562" width="2" height="1"/>
<rect x="23" y="564" width="1" height="2"/>
<rect x="75" y="564" width="1" height="2"/>
<rect x="125" y="564" width="1" height="2"/>
<rect x="176" y="564" width="1" height="2"/>
<rect x="227" y="564" width="1" height="2"/>
<rect x="279" y="564" width="1" height="2"/>
<rect x="329" y="564" width="1" height="2"/>
<rect x="379" y="564" width="1" height="2"/>
<rect x="431" y="564" width="1" height="2"/>
<rect x="482" y="564" width="1" height="2"/>
<rect x="532" y="564" width="1" height="2"/>
<rect x="583" y="564" width="1" height="2"/>
<rect x="634" y="564" width="1" height="2"/>
<rect x="686" y="564" width="1" height="2"/>
<rect x="735" y="564" width="1" height="2"/>
<rect x="786" y="564" width="1" height="2"/>
<rect x="837" y="564" width="1" height="2"/>
<rect x="889" y="564" width="1" height="2"/>
<rect x="940" y="564" width="1" height="2"/>
<rect x="990" y="564" width="1" height="2"/>
<rect x="41" y="564" width="1" height="1"/>
<rect x="58" y="564" width="1" height="1"/>
<rect x="92" y="564" width="1" height="1"/>
<rect x="109" y="564" width="1" height="1"/>
<rect x="142" y="564" width="1" height="1"/>
<rect x="159" y="564" width="1" height="1"/>
<rect x="194" y="564" width="1" height="1"/>
<rect x="210" y="564" width="1" height="1"/>
<rect x="245" y="564" width="1" height="1"/>
<rect x="261" y="564" width="1" height="1"/>
<rect x="296" y="564" width="1" height="1"/>
<rect x="312" y="564" width="1" height="1"/>
<rect x="346" y="564" width="1" height="1"/>
<rect x="363" y="564" width="1" height="1"/>
<rect x="397" y="564" width="1" height="1"/>
<rect x="413" y="564" width="1" height="1"/>
<rect x="448" y="564" width="1" height="1"/>
<rect x="465" y="564" width="1" height="1"/>
<rect x="499" y="564" width="1" height="1"/>
<rect x="515" y="564" width="1" height="1"/>
<rect x="549" y="564" width="1" height="1"/>
<rect x="566" y="564" width="1" height="1"/>
<rect x="600" y="564" width="1" height="1"/>
<rect x="617" y="564" width="1" height="1"/>
<rect x="652" y="564" width="1" height="1"/>
<rect x="668" y="564" width="1" height="1"/>
<rect x="702" y="564" width="1" height="1"/>
<rect x="718" y="564" width="1" height="1"/>
<rect x="753" y="564" width="1" height="1"/>
<rect x="770" y="564" width="1" height="1"/>
<rect x="803" y="564" width="1" height="1"/>
<rect x="820" y="564" width="1" height="1"/>
<rect x="855" y="564" width="1" height="1"/>
<rect x="871" y="564" width="1" height="1"/>
<rect x="906" y="564" width="1" height="1"/>
<rect x="922" y="564" width="1" height="1"/>
<rect x="957" y="564" width="1" height="1"/>
<rect x="973" y="564" width="1" height="1"/>
<rect x="1008" y="564" width="1" height="1"/>
<rect x="1025" y="564" width="1" height="1"/>
</g>
</svg>
<div class="t title" id="t1" style="left:20px">Apache Corp (APA)</div>
<div class="t title" id="t2" style="left:172px;letter-spacing:-0.45px">90.47</div>
<div class="t title" id="t3" style="left:219px;color:#0000ff;letter-spacing:-0.35px">+0.68</div>
<div class="t title" id="r1" style="left:769px;letter-spacing:-0.3px">www.fullermoney.com</div>
<div class="t title" id="r2" style="left:947px;letter-spacing:-0.36px">12 Sep 2012</div>
<div class="t wk" id="wk">Weekly</div>
<div class="t ema" id="ema">EMA 200</div>
<div class="xl" style="left:-7.5px">Oct</div><div class="xl" style="left:46.6px;letter-spacing:0.3px">2008</div><div class="xl" style="left:94.5px">Apr</div><div class="xl" style="left:145px">Jul</div><div class="xl" style="left:196.5px">Oct</div><div class="xl" style="left:250.6px;letter-spacing:0.3px">2009</div><div class="xl" style="left:298.5px">Apr</div><div class="xl" style="left:348px">Jul</div><div class="xl" style="left:400.5px">Oct</div><div class="xl" style="left:453.6px;letter-spacing:0.3px">2010</div><div class="xl" style="left:501.5px">Apr</div><div class="xl" style="left:552px">Jul</div><div class="xl" style="left:603.5px">Oct</div><div class="xl" style="left:657.6px;letter-spacing:0.3px">2011</div><div class="xl" style="left:704.5px">Apr</div><div class="xl" style="left:755px">Jul</div><div class="xl" style="left:806.5px">Oct</div><div class="xl" style="left:860.6px;letter-spacing:0.3px">2012</div><div class="xl" style="left:909.5px">Apr</div><div class="xl" style="left:959px">Jul</div><div class="yl" style="top:88px">140</div><div class="yl" style="top:188px">120</div><div class="yl" style="top:287px">100</div><div class="yl" style="top:387px">80</div><div class="yl" style="top:486px">60</div>
<div class="t foot" id="foot">&copy; 2012 Stockcube Research Ltd</div>
</body></html>
